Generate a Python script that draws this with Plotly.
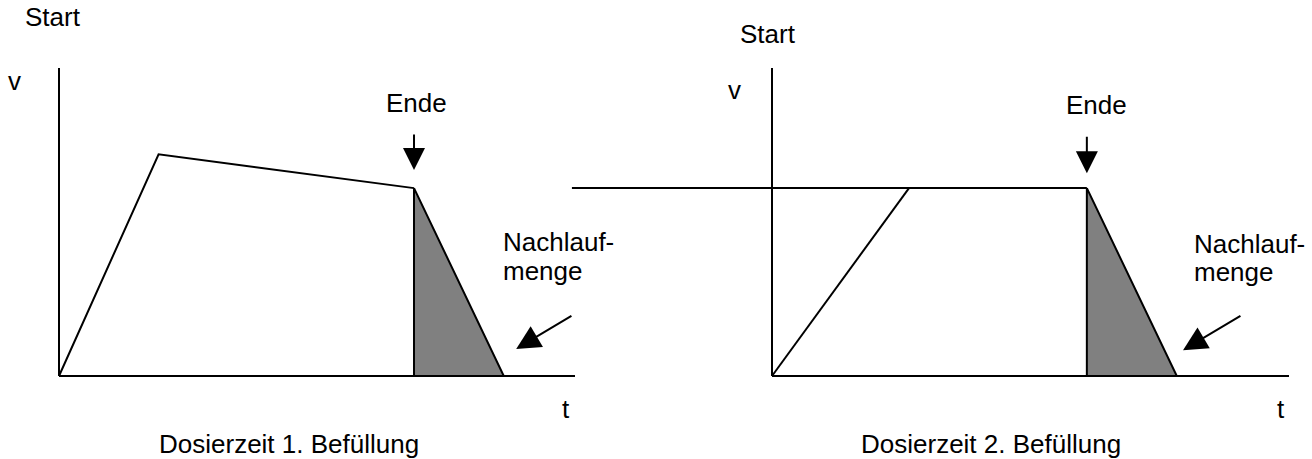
import plotly.graph_objects as go

# ---------------- data (t / v units) ----------------
# axes of both diagrams
axis_t_max = 10.0
axis_v_max = 10.0

# Diagram 1: Dosierzeit 1. Befüllung
d1_profile_t = [0.0, 1.93, 6.88]
d1_profile_v = [0.0, 7.2, 6.1]
d1_tail_t = [6.88, 6.88, 8.62, 6.88]      # Nachlaufmenge (shaded)
d1_tail_v = [6.1, 0.0, 0.0, 6.1]

# Diagram 2: Dosierzeit 2. Befüllung
d2_level_t = [-3.87, 6.09]
d2_level_v = [6.1, 6.1]
d2_ramp_t = [0.0, 2.65]
d2_ramp_v = [0.0, 6.1]
d2_tail_t = [6.09, 6.09, 7.83, 6.09]
d2_tail_v = [6.1, 0.0, 0.0, 6.1]

# arrows (tail -> tip)
d1_ende_arrow = dict(tail=(6.88, 7.89), tip=(6.88, 6.69))
d2_ende_arrow = dict(tail=(6.09, 7.82), tip=(6.09, 6.58))
d1_nach_arrow = dict(tail=(9.96, 1.98), tip=(8.86, 0.88))
d2_nach_arrow = dict(tail=(9.09, 1.98), tip=(7.95, 0.84))

titles = ["Dosierzeit 1. Befüllung", "Dosierzeit 2. Befüllung"]

# ---------------- figure ----------------
FONT = dict(family="Arial, 'Liberation Sans', sans-serif", size=26, color="black")
LINE = dict(color="black", width=2)
GRAY = "#808080"

fig = go.Figure()

def add_axes(xa, ya):
    fig.add_trace(go.Scatter(x=[0, axis_t_max], y=[0, 0], mode="lines", line=LINE,
                             xaxis=xa, yaxis=ya, hoverinfo="skip", showlegend=False))
    fig.add_trace(go.Scatter(x=[0, 0], y=[0, axis_v_max], mode="lines", line=LINE,
                             xaxis=xa, yaxis=ya, hoverinfo="skip", showlegend=False))

# diagram 1
fig.add_trace(go.Scatter(x=d1_tail_t, y=d1_tail_v, mode="lines", fill="toself",
                         fillcolor=GRAY, line=LINE, xaxis="x", yaxis="y",
                         hoverinfo="skip", showlegend=False))
fig.add_trace(go.Scatter(x=d1_profile_t, y=d1_profile_v, mode="lines", line=LINE,
                         xaxis="x", yaxis="y", hoverinfo="skip", showlegend=False))
add_axes("x", "y")

# diagram 2
fig.add_trace(go.Scatter(x=d2_tail_t, y=d2_tail_v, mode="lines", fill="toself",
                         fillcolor=GRAY, line=LINE, xaxis="x2", yaxis="y2",
                         hoverinfo="skip", showlegend=False))
fig.add_trace(go.Scatter(x=d2_level_t, y=d2_level_v, mode="lines", line=LINE,
                         xaxis="x2", yaxis="y2", hoverinfo="skip", showlegend=False))
fig.add_trace(go.Scatter(x=d2_ramp_t, y=d2_ramp_v, mode="lines", line=LINE,
                         xaxis="x2", yaxis="y2", hoverinfo="skip", showlegend=False))
add_axes("x2", "y2")

annotations = []

def arrow(a, xr, yr, size):
    annotations.append(dict(
        x=a["tip"][0], y=a["tip"][1], ax=a["tail"][0], ay=a["tail"][1],
        xref=xr, yref=yr, axref=xr, ayref=yr, text="", showarrow=True,
        arrowhead=2, arrowsize=size, arrowwidth=2, arrowcolor="black", standoff=0))

def label(text, x, y, xr, yr, xanchor="center"):
    annotations.append(dict(x=x, y=y, xref=xr, yref=yr, text=text, showarrow=False,
                            xanchor=xanchor, yanchor="middle", font=FONT))

arrow(d1_ende_arrow, "x", "y", 2.2)
arrow(d2_ende_arrow, "x2", "y2", 2.2)
arrow(d1_nach_arrow, "x", "y", 2.4)
arrow(d2_nach_arrow, "x2", "y2", 2.4)

# diagram 1 labels
label("Start", -0.116, 11.64, "x", "y")
label("v", -0.872, 9.58, "x", "y")
label("Ende", 6.92, 8.85, "x", "y")
label("Nachlauf-", 8.566, 4.35, "x", "y", "left")
label("menge", 8.566, 3.41, "x", "y", "left")
label("t", 9.83, -1.07, "x", "y")
label(titles[0], 4.457, -2.21, "x", "y")

# diagram 2 labels
label("Start", -0.068, 11.10, "x2", "y2")
label("v", -0.716, 9.30, "x2", "y2")
label("Ende", 6.28, 8.79, "x2", "y2")
label("Nachlauf-", 8.12, 4.29, "x2", "y2", "left")
label("menge", 8.12, 3.38, "x2", "y2", "left")
label("t", 9.85, -1.07, "x2", "y2")
label(titles[1], 4.236, -2.21, "x2", "y2")

hidden = dict(visible=False, showgrid=False, zeroline=False, fixedrange=True)

fig.update_layout(
    width=1312, height=459,
    margin=dict(l=0, r=0, t=0, b=0),
    paper_bgcolor="white", plot_bgcolor="rgba(0,0,0,0)",
    showlegend=False,
    xaxis=dict(domain=[0, 600 / 1312], range=[-1.1434, 10.4845], **hidden),
    yaxis=dict(domain=[0, 1], range=[-2.6948, 12.2078], **hidden),
    xaxis2=dict(domain=[560 / 1312, 1], range=[-4.1006, 10.4449], anchor="y2", **hidden),
    yaxis2=dict(domain=[0, 1], range=[-2.6948, 12.2078], anchor="x2", **hidden),
    annotations=annotations,
)

fig.write_html("out.html", config={"displayModeBar": False},
               post_script="document.body.style.margin='0';document.body.style.overflow='hidden';")
